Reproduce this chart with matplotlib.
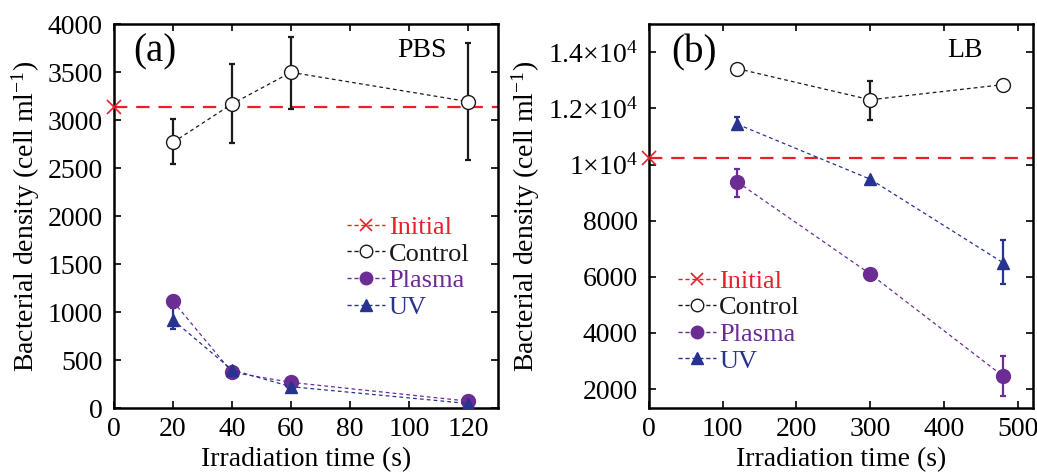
import matplotlib
matplotlib.use("Agg")
import matplotlib.pyplot as plt
from matplotlib.lines import Line2D
from matplotlib.ticker import FuncFormatter

plt.rcParams["font.family"] = ["Liberation Serif", "DejaVu Serif"]
plt.rcParams["mathtext.fontset"] = "custom"
plt.rcParams["mathtext.rm"] = "Liberation Serif"
plt.rcParams["mathtext.it"] = "Liberation Serif:italic"

RED = "#e8202a"
BLACK = "#1a1a1a"
PURPLE = "#6b2d94"
BLUE = "#27338f"

# --- panel (a) PBS ---
a_time = [20, 40, 60, 120]
a_initial = 3135
a_control = [2770, 3170, 3500, 3195]
a_control_lo = [2540, 2760, 3120, 2585]
a_control_hi = [3010, 3585, 3870, 3805]
a_plasma = [1115, 375, 270, 75]
a_uv = [920, 400, 225, 50]
a_uv_lo = [830, 380, 210, 40]
a_uv_hi = [1040, 420, 240, 60]

# --- panel (b) LB ---
b_time = [120, 300, 480]
b_initial = 10240
b_control = [13420, 12310, 12850]
b_control_lo = [13420, 11590, 12650]
b_control_hi = [13420, 12990, 13000]
b_plasma = [9380, 6100, 2460]
b_plasma_lo = [8850, 6100, 1750]
b_plasma_hi = [9860, 6100, 3190]
b_uv = [11440, 9480, 6500]
b_uv_lo = [11300, 9480, 5740]
b_uv_hi = [11700, 9480, 7330]

W, H = 1037, 473
fig = plt.figure(figsize=(W / 100, H / 100), dpi=100)
bottom = (H - 408.3) / H
height = 384 / H
ax_a = fig.add_axes([114 / W, bottom, 383.5 / W, height])
ax_b = fig.add_axes([648.7 / W, bottom, 384 / W, height])

FS = 20
LFS = 19


def err(vals, lo, hi):
    return [[v - l for v, l in zip(vals, lo)], [h - v for v, h in zip(vals, hi)]]


def draw(ax, t, initial, control, c_lo, c_hi, plasma, p_lo, p_hi, uv, u_lo, u_hi):
    ax.axhline(initial, color=RED, lw=1.6, ls=(0, (6, 4)), zorder=2)
    ax.plot([0], [initial], "x", color=RED, ms=10, mew=1.2, clip_on=False, zorder=5)
    ax.plot(t, control, ls=(0, (3, 2.5)), lw=0.9, color=BLACK, marker="o", ms=10,
            mfc="white", mec=BLACK, mew=1.0, zorder=4)
    ax.errorbar(t, control, yerr=err(control, c_lo, c_hi), fmt="none", ecolor=BLACK,
                elinewidth=1.6, capsize=2.5, capthick=1.6, zorder=3)
    ax.plot(t, plasma, ls=(0, (3, 2.5)), lw=0.9, color=PURPLE, marker="o", ms=10,
            mfc=PURPLE, mec=PURPLE, zorder=4)
    if p_lo is not None:
        ax.errorbar(t, plasma, yerr=err(plasma, p_lo, p_hi), fmt="none", ecolor=PURPLE,
                    elinewidth=1.6, capsize=2.5, capthick=1.6, zorder=3)
    ax.plot(t, uv, ls=(0, (3, 2.5)), lw=0.9, color=BLUE, marker="^", ms=9,
            mfc=BLUE, mec=BLUE, zorder=4)
    ax.errorbar(t, uv, yerr=err(uv, u_lo, u_hi), fmt="none", ecolor=BLUE,
                elinewidth=1.6, capsize=2.5, capthick=1.6, zorder=3)

    ax.tick_params(direction="in", top=True, right=True, length=5, width=1.2,
                   labelsize=FS)
    ax.tick_params(axis="x", pad=6)
    ax.tick_params(axis="y", pad=8)
    for s in ax.spines.values():
        s.set_linewidth(1.8)
    ax.set_xlabel("Irradiation time (s)", fontsize=FS, labelpad=4)
    ax.set_ylabel("Bacterial density (cell ml$^{-1}$)", fontsize=FS, labelpad=4)


def legend(ax, loc):
    handles = [
        Line2D([], [], color=RED, ls=(0, (3, 2)), lw=1.0, marker="x", ms=9, mew=1.2),
        Line2D([], [], color=BLACK, ls=(0, (3, 2)), lw=1.0, marker="o", ms=9,
               mfc="white", mew=1.0),
        Line2D([], [], color=PURPLE, ls=(0, (3, 2)), lw=1.0, marker="o", ms=9),
        Line2D([], [], color=BLUE, ls=(0, (3, 2)), lw=1.0, marker="^", ms=8),
    ]
    ax.legend(handles, ["Initial", "Control", "Plasma", "UV"], loc="upper left",
              bbox_to_anchor=loc, frameon=False, fontsize=LFS, handlelength=1.45,
              handletextpad=0.12, labelspacing=0.12, borderaxespad=0, borderpad=0,
              labelcolor=[RED, BLACK, PURPLE, BLUE])


draw(ax_a, a_time, a_initial, a_control, a_control_lo, a_control_hi,
     a_plasma, None, None, a_uv, a_uv_lo, a_uv_hi)
ax_a.set_xlim(0, 130)
ax_a.set_ylim(0, 4000)
ax_a.set_xticks([0, 20, 40, 60, 80, 100, 120])
ax_a.set_yticks(range(0, 4001, 500))
ax_a.text(0.05, 0.975, "(a)", transform=ax_a.transAxes, fontsize=28, va="top", ha="left")
ax_a.text(0.868, 0.965, "PBS", transform=ax_a.transAxes, fontsize=FS, va="top", ha="right")
legend(ax_a, (0.608, 0.502))

draw(ax_b, b_time, b_initial, b_control, b_control_lo, b_control_hi,
     b_plasma, b_plasma_lo, b_plasma_hi, b_uv, b_uv_lo, b_uv_hi)
ax_b.set_xlim(0, 520)
ax_b.set_ylim(1315, 15000)
ax_b.set_xticks([0, 100, 200, 300, 400, 500])
ax_b.set_yticks(range(2000, 14001, 2000))


def sci(v, pos):
    if v >= 10000:
        m = v / 10000
        ms = "1" if abs(m - 1) < 1e-9 else f"{m:.1f}"
        return ms + "×10$^{4}$"
    return f"{int(v)}"


ax_b.yaxis.set_major_formatter(FuncFormatter(sci))
ax_b.text(0.058, 0.975, "(b)", transform=ax_b.transAxes, fontsize=28, va="top", ha="left")
ax_b.text(0.87, 0.965, "LB", transform=ax_b.transAxes, fontsize=FS, va="top", ha="right")
legend(ax_b, (0.076, 0.362))

fig.savefig("out.png", dpi=100)
